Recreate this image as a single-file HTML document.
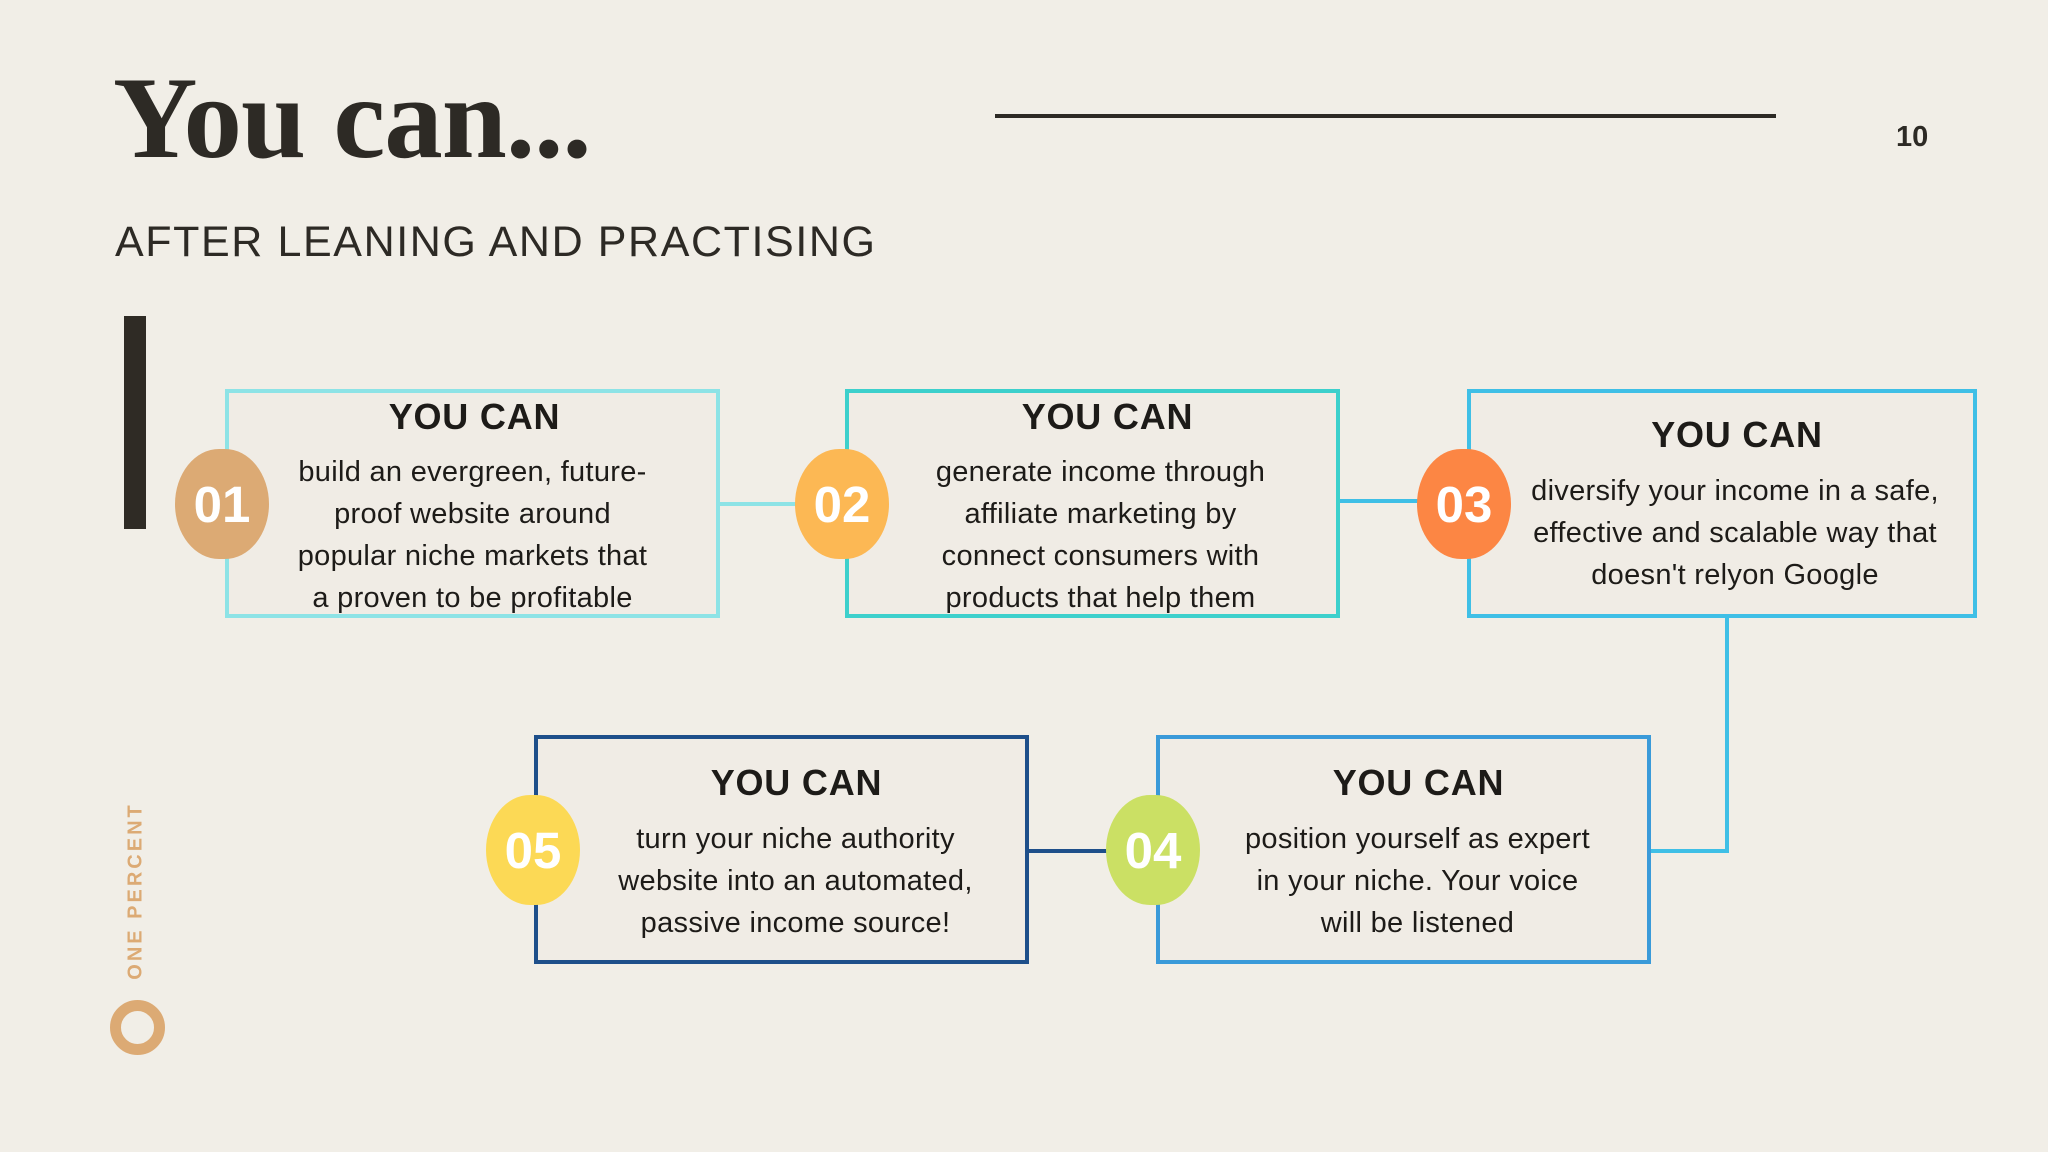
<!DOCTYPE html>
<html><head><meta charset="utf-8"><style>
*{margin:0;padding:0;box-sizing:border-box}
body{width:2048px;height:1152px;background:#f1eee7;position:relative;overflow:hidden;font-family:"Liberation Sans",sans-serif;color:#1d1b18}
.a{position:absolute}
.box{position:absolute;border:4px solid;background:#f0ece5}
.hd{position:absolute;left:0;right:0;text-align:center;font-weight:bold;font-size:36px;letter-spacing:0.8px;padding-left:30px}
.bd{position:absolute;left:0;right:0;text-align:center;font-size:29px;line-height:42px;letter-spacing:0.3px;padding-left:16px}
.c{position:absolute;width:94px;height:110px;border-radius:47%/50%;color:#fff;font-weight:bold;font-size:51px;display:flex;align-items:center;justify-content:center;transform:translate(-50%,-50%)}
.ln{position:absolute}
</style></head><body>
<div class="a" style="left:113px;top:52px;font-family:'Liberation Serif',serif;font-weight:bold;font-size:117px;color:#2d2a25;letter-spacing:-1px">You can...</div>
<div class="a" style="left:995px;top:114px;width:781px;height:4px;background:#2d2a25"></div>
<div class="a" style="left:1896px;top:121px;font-weight:bold;font-size:29px;color:#2d2a25">10</div>
<div class="a" style="left:115px;top:218px;font-size:43px;letter-spacing:1.6px;color:#2d2a25">AFTER LEANING AND PRACTISING</div>
<div class="a" style="left:124px;top:316px;width:22px;height:213px;background:#2f2b25"></div>

<div class="ln" style="left:720px;top:502px;width:125px;height:4px;background:#8de3e6"></div>
<div class="ln" style="left:1340px;top:499px;width:127px;height:4px;background:#3fbfe6"></div>
<div class="ln" style="left:1725px;top:618px;width:4px;height:235px;background:#3fbfe6"></div>
<div class="ln" style="left:1651px;top:849px;width:78px;height:4px;background:#3fbfe6"></div>
<div class="ln" style="left:1029px;top:849px;width:127px;height:4px;background:#1e4f8a"></div>

<div class="box" style="left:225px;top:389px;width:495px;height:229px;border-color:#8de3e6">
<div class="hd" style="top:3px;padding-left:4px">YOU CAN</div>
<div class="bd" style="top:58px;padding-left:0">build an evergreen, future-<br>proof website around<br>popular niche markets that<br>a proven to be profitable</div></div>
<div class="box" style="left:845px;top:389px;width:495px;height:229px;border-color:#3dd0cc">
<div class="hd" style="top:3px">YOU CAN</div>
<div class="bd" style="top:58px">generate income through<br>affiliate marketing by<br>connect consumers with<br>products that help them</div></div>
<div class="box" style="left:1467px;top:389px;width:510px;height:229px;border-color:#3fbfe6">
<div class="hd" style="top:21px">YOU CAN</div>
<div class="bd" style="top:77px;padding-left:26px">diversify your income in a safe,<br>effective and scalable way that<br>doesn't relyon Google</div></div>
<div class="box" style="left:1156px;top:735px;width:495px;height:229px;border-color:#3a9ad9">
<div class="hd" style="top:23px">YOU CAN</div>
<div class="bd" style="top:79px;padding-left:28px">position yourself as expert<br>in your niche. Your voice<br>will be listened</div></div>
<div class="box" style="left:534px;top:735px;width:495px;height:229px;border-color:#1e4f8a">
<div class="hd" style="top:23px">YOU CAN</div>
<div class="bd" style="top:79px;padding-left:28px">turn your niche authority<br>website into an automated,<br>passive income source!</div></div>

<div class="c" style="left:222px;top:504px;background:#dcaa74">01</div>
<div class="c" style="left:842px;top:504px;background:#fcb854">02</div>
<div class="c" style="left:1464px;top:504px;background:#fc8644">03</div>
<div class="c" style="left:1153px;top:850px;background:#cbe064">04</div>
<div class="c" style="left:533px;top:850px;background:#fcd955">05</div>

<div class="a" style="left:136px;top:891px;transform:translate(-50%,-50%) rotate(-90deg);font-weight:bold;font-size:20px;letter-spacing:3px;color:#dcaa74;white-space:nowrap">ONE PERCENT</div>
<div class="a" style="left:110px;top:1000px;width:55px;height:55px;border-radius:50%;border:11px solid #dcaa74"></div>
</body></html>
